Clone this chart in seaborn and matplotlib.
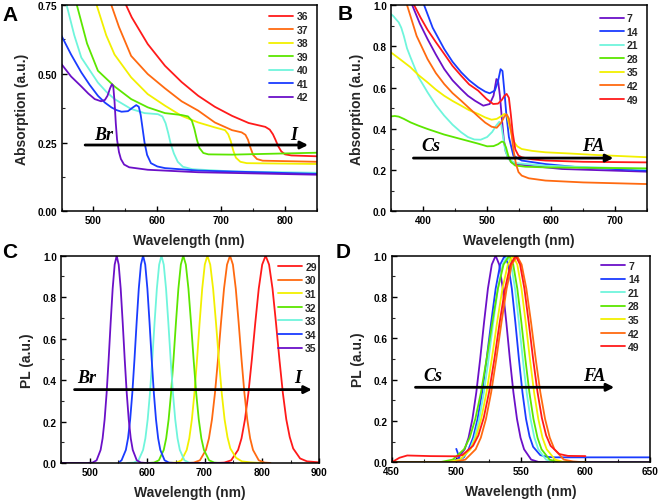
import matplotlib
matplotlib.use("Agg")
import matplotlib.pyplot as plt
from matplotlib.ticker import MultipleLocator, AutoMinorLocator, FormatStrFormatter
import seaborn as sns
import pandas as pd

# ---------------- colours ----------------
RED, ORANGE, YELLOW, GREEN = '#FF1A1A', '#FF6A10', '#F2F000', '#5CE600'
CYAN, BLUE, PURPLE = '#6FF5DC', '#1A3CFF', '#6B10C8'

# ---------------- Panel A : absorption, halide series ----------------
A_labels = ['36', '37', '38', '39', '40', '41', '42']
A36_x = [551, 560, 585, 612, 638, 664, 690, 717, 743, 769, 776, 781, 785, 789, 794, 800, 810, 850]
A36_y = [0.75, 0.705, 0.608, 0.529, 0.47, 0.42, 0.38, 0.347, 0.321, 0.307, 0.297, 0.28, 0.26, 0.238, 0.218, 0.207, 0.203, 0.2]
A37_x = [528, 540, 559, 585, 612, 638, 664, 690, 717, 732, 738, 742, 746, 750, 756, 765, 850]
A37_y = [0.75, 0.67, 0.565, 0.499, 0.447, 0.40, 0.366, 0.323, 0.295, 0.287, 0.278, 0.26, 0.23, 0.205, 0.19, 0.184, 0.18]
A38_x = [505, 520, 533, 559, 585, 612, 638, 664, 690, 706, 711, 715, 719, 723, 730, 740, 850]
A38_y = [0.75, 0.64, 0.57, 0.487, 0.426, 0.384, 0.347, 0.323, 0.305, 0.295, 0.28, 0.255, 0.22, 0.195, 0.18, 0.175, 0.172]
A39_x = [474, 490, 507, 533, 559, 585, 612, 638, 648, 654, 658, 662, 666, 672, 680, 717, 850]
A39_y = [0.75, 0.61, 0.511, 0.454, 0.408, 0.378, 0.357, 0.35, 0.345, 0.33, 0.30, 0.26, 0.23, 0.212, 0.207, 0.206, 0.213]
A40_x = [458, 470, 481, 495, 507, 520, 533, 559, 580, 601, 608, 613, 617, 621, 626, 632, 640, 655, 717, 850]
A40_y = [0.75, 0.64, 0.559, 0.51, 0.468, 0.435, 0.408, 0.372, 0.357, 0.353, 0.345, 0.32, 0.285, 0.245, 0.21, 0.18, 0.162, 0.153, 0.145, 0.14]
A41_x = [450, 465, 481, 494, 507, 518, 528, 536, 544, 554, 562, 567, 571, 574, 577, 580, 584, 590, 600, 612, 664, 850]
A41_y = [0.638, 0.57, 0.505, 0.46, 0.42, 0.395, 0.378, 0.368, 0.362, 0.364, 0.378, 0.386, 0.38, 0.35, 0.30, 0.25, 0.205, 0.175, 0.163, 0.157, 0.148, 0.136]
A42_x = [450, 465, 481, 492, 502, 512, 518, 522, 526, 529, 531, 533, 535, 537, 540, 543, 548, 556, 585, 664, 850]
A42_y = [0.535, 0.49, 0.454, 0.428, 0.408, 0.40, 0.405, 0.42, 0.447, 0.462, 0.455, 0.40, 0.32, 0.26, 0.215, 0.19, 0.17, 0.16, 0.151, 0.142, 0.133]

# ---------------- Panel B : absorption, cation series ----------------
B_labels = ['7', '14', '21', '28', '35', '42', '49']
B7_x = [383, 395, 407, 420, 433, 446, 459, 470, 481, 494, 504, 510, 514.5, 517, 520, 523, 526, 529, 533, 538, 548, 565, 617, 750]
B7_y = [1.0, 0.91, 0.835, 0.76, 0.69, 0.635, 0.593, 0.56, 0.536, 0.512, 0.52, 0.56, 0.641, 0.635, 0.56, 0.45, 0.35, 0.29, 0.26, 0.237, 0.228, 0.221, 0.205, 0.192]
B14_x = [401.6, 415, 433, 446, 459.5, 472, 486, 497, 504, 512, 517, 521, 524, 527, 530, 534, 541, 554, 591, 644, 750]
B14_y = [1.0, 0.89, 0.787, 0.725, 0.674, 0.635, 0.601, 0.58, 0.572, 0.585, 0.63, 0.689, 0.68, 0.58, 0.47, 0.36, 0.27, 0.246, 0.229, 0.213, 0.197]
B21_x = [350, 354, 358, 362, 366, 370, 375, 380.5, 393, 407, 420, 433, 446, 459.5, 470, 480, 490, 500, 508, 514, 519, 522, 525, 528, 533, 543.7, 591, 750]
B21_y = [0.956, 0.945, 0.93, 0.916, 0.89, 0.85, 0.79, 0.746, 0.65, 0.577, 0.515, 0.464, 0.42, 0.383, 0.36, 0.348, 0.347, 0.36, 0.385, 0.415, 0.434, 0.42, 0.36, 0.30, 0.254, 0.234, 0.221, 0.205]
B28_x = [350, 356, 362, 370, 380.5, 393, 407, 433, 459.5, 486, 500, 510, 517, 523, 526, 529.5, 533, 537, 543.7, 560, 591, 750]
B28_y = [0.46, 0.462, 0.459, 0.448, 0.431, 0.415, 0.399, 0.372, 0.35, 0.328, 0.315, 0.316, 0.325, 0.338, 0.335, 0.31, 0.27, 0.24, 0.222, 0.216, 0.213, 0.208]
B35_x = [350, 365, 380.5, 393, 407, 420, 433, 446, 459.5, 472, 486, 497, 507, 515, 522.6, 527, 531, 536, 541, 547, 554, 570, 591, 630, 670, 750]
B35_y = [0.77, 0.735, 0.698, 0.66, 0.625, 0.59, 0.56, 0.535, 0.512, 0.49, 0.472, 0.455, 0.444, 0.448, 0.462, 0.472, 0.465, 0.40, 0.34, 0.315, 0.302, 0.293, 0.286, 0.28, 0.273, 0.262]
B42_x = [375, 390, 407, 420, 433, 446, 459.5, 472, 486, 497, 507, 515, 522, 527, 530.5, 534, 538, 541, 545, 549, 554, 565, 591, 650, 750]
B42_y = [1.0, 0.85, 0.738, 0.67, 0.617, 0.573, 0.536, 0.5, 0.46, 0.43, 0.41, 0.405, 0.43, 0.46, 0.47, 0.45, 0.38, 0.30, 0.23, 0.19, 0.173, 0.16, 0.149, 0.14, 0.132]
B49_x = [386, 396, 407, 420, 433, 446, 459.5, 472, 486, 499, 509.5, 517, 523, 527, 530.5, 534, 537, 540, 544, 549, 554, 570, 591, 650, 750]
B49_y = [1.0, 0.94, 0.88, 0.82, 0.763, 0.705, 0.657, 0.615, 0.585, 0.545, 0.52, 0.522, 0.54, 0.56, 0.569, 0.55, 0.47, 0.38, 0.30, 0.27, 0.262, 0.252, 0.246, 0.24, 0.237]

# ---------------- Panel C : PL, halide series ----------------
C_labels = ['29', '30', '31', '32', '33', '34', '35']
C29_x = [700, 720, 734.5, 746.5, 758.5, 764.5, 770.5, 776.5, 782.5, 788.5, 794.5, 800.5, 806.5, 812.5, 818.5, 824.5, 830.5, 836.5, 842.5, 848.5, 854.5, 866.5, 878.5, 900]
C29_y = [0, 0, 0.002, 0.013, 0.063, 0.119, 0.21, 0.338, 0.5, 0.677, 0.841, 0.957, 1.0, 0.957, 0.841, 0.677, 0.5, 0.338, 0.21, 0.125, 0.07, 0.022, 0.008, 0.003]
C30_x = [670, 681.5, 692, 702.5, 707.75, 713, 718.25, 723.5, 728.75, 734, 739.25, 744.5, 749.5, 754.5, 759.5, 764.5, 769.5, 774.5, 779.5, 784.5, 794.5, 804.5, 815]
C30_y = [0, 0.002, 0.013, 0.063, 0.119, 0.21, 0.338, 0.5, 0.677, 0.841, 0.957, 1.0, 0.957, 0.841, 0.677, 0.5, 0.338, 0.21, 0.119, 0.063, 0.013, 0.002, 0]
C31_x = [630, 651, 660, 669, 673.5, 678, 682.5, 687, 691.5, 696, 700.5, 705, 710, 715, 720, 725, 730, 735, 740, 745, 755, 765, 780, 800]
C31_y = [0, 0.002, 0.013, 0.063, 0.119, 0.21, 0.338, 0.5, 0.677, 0.841, 0.957, 1.0, 0.957, 0.841, 0.677, 0.5, 0.338, 0.21, 0.125, 0.07, 0.025, 0.008, 0.003, 0]
C32_x = [600, 612, 620.5, 629, 633.25, 637.5, 641.75, 646, 650.25, 654.5, 658.75, 663, 667.5, 672, 676.5, 681, 685.5, 690, 694.5, 699, 708, 717, 730, 745]
C32_y = [0, 0.002, 0.013, 0.063, 0.119, 0.21, 0.338, 0.5, 0.677, 0.841, 0.957, 1.0, 0.957, 0.841, 0.677, 0.5, 0.338, 0.21, 0.119, 0.063, 0.013, 0.002, 0, 0]
C33_x = [565, 577, 585, 593, 597, 601, 605, 609, 613, 617, 621, 625, 629, 633, 637, 641, 645, 649, 653, 657, 665, 673, 685, 745]
C33_y = [0, 0.002, 0.013, 0.063, 0.119, 0.21, 0.338, 0.5, 0.677, 0.841, 0.957, 1.0, 0.957, 0.841, 0.677, 0.5, 0.338, 0.21, 0.119, 0.063, 0.013, 0.002, 0, 0]
C34_x = [552, 555.5, 563, 566.75, 570.5, 574.25, 578, 581.75, 585.5, 589.25, 593, 596.75, 600.5, 604.25, 608, 611.75, 615.5, 619.25, 623, 630.5, 638, 650, 745]
C34_y = [0.006, 0.013, 0.063, 0.119, 0.21, 0.338, 0.5, 0.677, 0.841, 0.957, 1.0, 0.957, 0.841, 0.677, 0.5, 0.338, 0.21, 0.119, 0.063, 0.013, 0.002, 0, 0]
C35_x = [450, 495, 505, 512, 519, 522.5, 526, 529.5, 533, 536.5, 540, 543.5, 547, 550.5, 554, 557.5, 561, 564.5, 568, 571.5, 575, 582, 589, 600, 750]
C35_y = [0, 0, 0.002, 0.013, 0.063, 0.119, 0.21, 0.338, 0.5, 0.677, 0.841, 0.957, 1.0, 0.957, 0.841, 0.677, 0.5, 0.338, 0.21, 0.119, 0.063, 0.013, 0.002, 0, 0]

# ---------------- Panel D : PL, cation series ----------------
D_labels = ['7', '14', '21', '28', '35', '42', '49']
D7_x = [450, 485, 494.5, 500.5, 506.5, 509.5, 512.5, 515.5, 518.5, 521.5, 524.5, 527.5, 530.5, 533.25, 536, 538.75, 541.5, 544.25, 547, 549.75, 552.5, 558, 563.5, 575, 650]
D7_y = [0, 0, 0.002, 0.013, 0.063, 0.119, 0.21, 0.338, 0.5, 0.677, 0.841, 0.957, 1.0, 0.957, 0.841, 0.677, 0.5, 0.338, 0.21, 0.119, 0.063, 0.013, 0.002, 0, 0]
D14_x = [500, 503, 506, 509.5, 513, 516.5, 520, 523.5, 527, 530.5, 534, 537.5, 540.25, 543, 545.75, 548.5, 551.25, 554, 556.75, 559.5, 565, 570.5, 576, 650]
D14_y = [0.065, 0.012, 0.025, 0.063, 0.119, 0.21, 0.338, 0.5, 0.677, 0.841, 0.957, 1.0, 0.957, 0.841, 0.677, 0.5, 0.338, 0.21, 0.125, 0.075, 0.035, 0.026, 0.024, 0.024]
D21_x = [450, 490, 496, 503.25, 510.5, 514.1, 517.75, 521.4, 525, 528.6, 532.25, 535.9, 539.5, 542.5, 545.5, 548.5, 551.5, 554.5, 557.5, 560.5, 563.5, 569.5, 575.5, 585, 600]
D21_y = [0, 0, 0.002, 0.013, 0.063, 0.119, 0.21, 0.338, 0.5, 0.677, 0.841, 0.957, 1.0, 0.957, 0.841, 0.677, 0.5, 0.338, 0.21, 0.119, 0.063, 0.013, 0.002, 0, 0]
D28_x = [450, 480, 488.5, 497.25, 506, 510.4, 514.75, 519.1, 523.5, 527.9, 532.25, 536.6, 541, 544.1, 547.25, 550.4, 553.5, 556.6, 559.75, 562.9, 566, 572.25, 578.5, 590, 600]
D28_y = [0, 0, 0.002, 0.013, 0.063, 0.119, 0.21, 0.338, 0.5, 0.677, 0.841, 0.957, 1.0, 0.957, 0.841, 0.677, 0.5, 0.338, 0.21, 0.119, 0.063, 0.013, 0.002, 0, 0]
D35_x = [450, 485, 494.5, 502.75, 511, 515.1, 519.25, 523.4, 527.5, 531.6, 535.75, 539.9, 544, 547.25, 550.5, 553.75, 557, 560.25, 563.5, 566.75, 570, 576.5, 583, 592, 600]
D35_y = [0, 0, 0.002, 0.013, 0.063, 0.119, 0.21, 0.338, 0.5, 0.677, 0.841, 0.957, 1.0, 0.957, 0.841, 0.677, 0.5, 0.338, 0.21, 0.119, 0.063, 0.013, 0.002, 0, 0]
D42_x = [450, 490, 499, 507, 515, 519, 523, 527, 531, 535, 539, 543, 547, 550.6, 554.25, 557.9, 561.5, 565.1, 568.75, 572.4, 576, 583.25, 590.5, 597, 600]
D42_y = [0, 0, 0.002, 0.013, 0.063, 0.119, 0.21, 0.338, 0.5, 0.677, 0.841, 0.957, 1.0, 0.957, 0.841, 0.677, 0.5, 0.338, 0.21, 0.119, 0.063, 0.013, 0.004, 0.001, 0]
D49_x = [450, 456, 462, 480, 500, 504.75, 513, 517.1, 521.25, 525.4, 529.5, 533.6, 537.75, 541.9, 546, 549.4, 552.75, 556.1, 559.5, 562.9, 566.25, 569.6, 573, 579.75, 586.5, 600]
D49_y = [0, 0.022, 0.033, 0.03, 0.029, 0.035, 0.08, 0.13, 0.215, 0.34, 0.5, 0.677, 0.841, 0.957, 1.0, 0.957, 0.841, 0.677, 0.5, 0.34, 0.215, 0.13, 0.08, 0.04, 0.031, 0.03]

# ---------------- style ----------------
sns.set_theme(style="ticks")
plt.rcParams['font.family'] = ['Liberation Sans', 'DejaVu Sans']
plt.rcParams['font.weight'] = 'bold'
plt.rcParams['axes.labelweight'] = 'bold'
plt.rcParams['axes.linewidth'] = 1.1
plt.rcParams['axes.edgecolor'] = 'black'

fig = plt.figure(figsize=(6.6, 5.02), dpi=100)
W, H = 660.0, 502.0


def make_ax(l, r, t, b):
    return fig.add_axes([l / W, 1 - b / H, (r - l) / W, (b - t) / H])


axA = make_ax(61.5, 317, 6, 212.3)
axB = make_ax(391, 647.3, 6, 212.3)
axC = make_ax(61, 319.3, 256.7, 464)
axD = make_ax(391.7, 650, 256.7, 463.3)


def draw(ax, series):
    for lab, xs, ys, col in series:
        df = pd.DataFrame({'wl': xs, 'val': ys})
        sns.lineplot(data=df, x='wl', y='val', color=col, lw=1.3, ax=ax,
                     label=lab, estimator=None, sort=False)


def style(ax, xlim, xmaj, ylim, ymaj, yfmt, ylabel, leg_anchor):
    ax.set_xlim(*xlim)
    ax.set_ylim(*ylim)
    ax.xaxis.set_major_locator(MultipleLocator(xmaj))
    ax.xaxis.set_minor_locator(AutoMinorLocator(2))
    ax.yaxis.set_major_locator(MultipleLocator(ymaj))
    ax.yaxis.set_minor_locator(AutoMinorLocator(2))
    ax.yaxis.set_major_formatter(FormatStrFormatter(yfmt))
    ax.tick_params(which='major', direction='in', length=3.5, width=1.0,
                   labelsize=7.2, pad=3, colors='black')
    ax.tick_params(which='minor', direction='in', length=2, width=0.8)
    for lab in ax.get_xticklabels() + ax.get_yticklabels():
        lab.set_fontweight('bold')
    ax.set_xlabel('Wavelength (nm)', fontsize=10, fontweight='bold', labelpad=5.5)
    ax.set_ylabel(ylabel, fontsize=10, fontweight='bold', labelpad=6.5)
    for s in ax.spines.values():
        s.set_visible(True)
        s.set_color('black')
        s.set_linewidth(1.1)
    ax.set_facecolor('white')
    ax.legend(loc='upper right', bbox_to_anchor=leg_anchor, frameon=False,
              prop={'weight': 'bold', 'size': 7.5}, handlelength=2.3,
              handletextpad=0.3, labelspacing=0.34, borderaxespad=0.0,
              borderpad=0.0)


def arrow(ax, x0, x1, y, left_txt, lx, right_txt, rx, ty):
    ax.annotate('', xy=(x1, y), xytext=(x0, y),
                arrowprops=dict(arrowstyle='-|>', color='black', lw=2.0,
                                mutation_scale=11, shrinkA=0, shrinkB=0))
    kw = dict(fontsize=13, fontweight='bold', fontstyle='italic',
              family=['Liberation Serif', 'DejaVu Serif'],
              ha='center', va='center', color='black')
    ax.text(lx, ty, left_txt, **kw)
    ax.text(rx, ty, right_txt, **kw)


draw(axA, [('36', A36_x, A36_y, RED), ('37', A37_x, A37_y, ORANGE),
           ('38', A38_x, A38_y, YELLOW), ('39', A39_x, A39_y, GREEN),
           ('40', A40_x, A40_y, CYAN), ('41', A41_x, A41_y, BLUE),
           ('42', A42_x, A42_y, PURPLE)])
style(axA, (450, 850), 100, (0, 0.75), 0.25, '%.2f', 'Absorption (a.u.)', (0.965, 0.97))
arrow(axA, 487, 836, 0.241, 'Br', 516, 'I', 814, 0.28)

draw(axB, [('7', B7_x, B7_y, PURPLE), ('14', B14_x, B14_y, BLUE),
           ('21', B21_x, B21_y, CYAN), ('28', B28_x, B28_y, GREEN),
           ('35', B35_x, B35_y, YELLOW), ('42', B42_x, B42_y, ORANGE),
           ('49', B49_x, B49_y, RED)])
style(axB, (350, 750), 100, (0, 1.0), 0.2, '%.1f', 'Absorption (a.u.)', (0.965, 0.96))
arrow(axB, 385, 697, 0.258, 'Cs', 413, 'FA', 666, 0.318)

draw(axC, [('29', C29_x, C29_y, RED), ('30', C30_x, C30_y, ORANGE),
           ('31', C31_x, C31_y, YELLOW), ('32', C32_x, C32_y, GREEN),
           ('33', C33_x, C33_y, CYAN), ('34', C34_x, C34_y, BLUE),
           ('35', C35_x, C35_y, PURPLE)])
style(axC, (450, 900), 100, (0, 1.0), 0.2, '%.1f', 'PL (a.u.)', (0.99, 0.97))
arrow(axC, 473.6, 887, 0.354, 'Br', 494.5, 'I', 863, 0.413)

draw(axD, [('7', D7_x, D7_y, PURPLE), ('14', D14_x, D14_y, BLUE),
           ('21', D21_x, D21_y, CYAN), ('28', D28_x, D28_y, GREEN),
           ('35', D35_x, D35_y, YELLOW), ('42', D42_x, D42_y, ORANGE),
           ('49', D49_x, D49_y, RED)])
style(axD, (450, 650), 50, (0, 1.0), 0.2, '%.1f', 'PL (a.u.)', (0.96, 0.975))
arrow(axD, 468.4, 622.3, 0.363, 'Cs', 482, 'FA', 607, 0.419)

for txt, x, y in [('A', 2, 6), ('B', 338, 5), ('C', 2, 243), ('D', 336, 243)]:
    fig.text(x / W, 1 - y / H, txt, fontsize=15, fontweight='bold',
             ha='left', va='top', color='black')

fig.savefig('out.png', dpi=100, facecolor='white')
